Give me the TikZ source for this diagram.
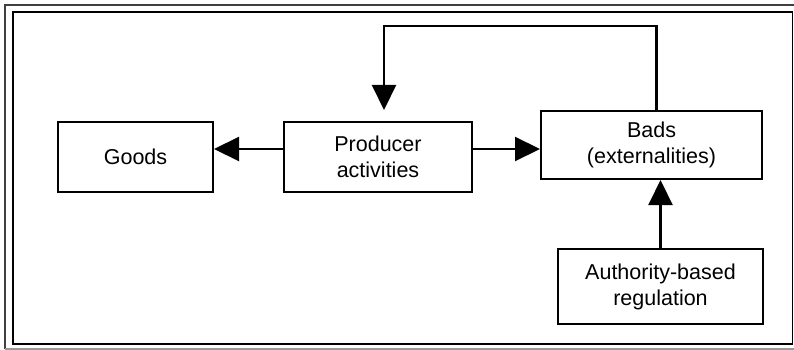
\documentclass[tikz,border=0pt]{standalone}
\usepackage{fontspec}
\setmainfont{Liberation Sans}
\usetikzlibrary{positioning,arrows.meta}

\begin{document}
\begin{tikzpicture}[x=1pt,y=-1pt,
    box/.style={draw, line width=2pt, align=center, inner sep=0pt,
        font=\fontsize{21.5}{26}\selectfont},
    >={Triangle[length=25pt,width=24pt]},
]
\useasboundingbox (0,0) rectangle (794,350);
% frame
\draw[line width=2.6pt, black!75] (5,349) -- (5,5) -- (794,5);
\draw[line width=2pt, black!40] (5,348.5) -- (794,348.5);
\draw[line width=1.8pt] (13,12) rectangle (792.5,344);

\node[box, minimum width=155pt, minimum height=70pt] (goods) at (135.5,157) {Goods};
\node[box, minimum width=188pt, minimum height=70pt, right=69pt of goods] (producer)
    {Producer\\activities};
\node[box, minimum width=221pt, minimum height=68pt, right=67pt of producer, yshift=12pt] (bads)
    {Bads\\(externalities)};
\node[box, minimum width=205pt, minimum height=75pt, below=68pt of bads, xshift=9pt] (authority)
    {Authority-based\\regulation};

\coordinate (fbtop) at (656.5,26);
\coordinate (fbtip) at (384,110);

\draw[->, line width=2.1pt]
([yshift=8pt]producer.west) edge ([yshift=8pt]producer.west -| goods.east)
([yshift=8pt]producer.east) edge ([yshift=8pt]producer.east -| bads.west)
(authority.north) edge (authority |- bads.south)
(bads.north -| fbtop) -- (fbtop) -| (fbtip);
\end{tikzpicture}
\end{document}
